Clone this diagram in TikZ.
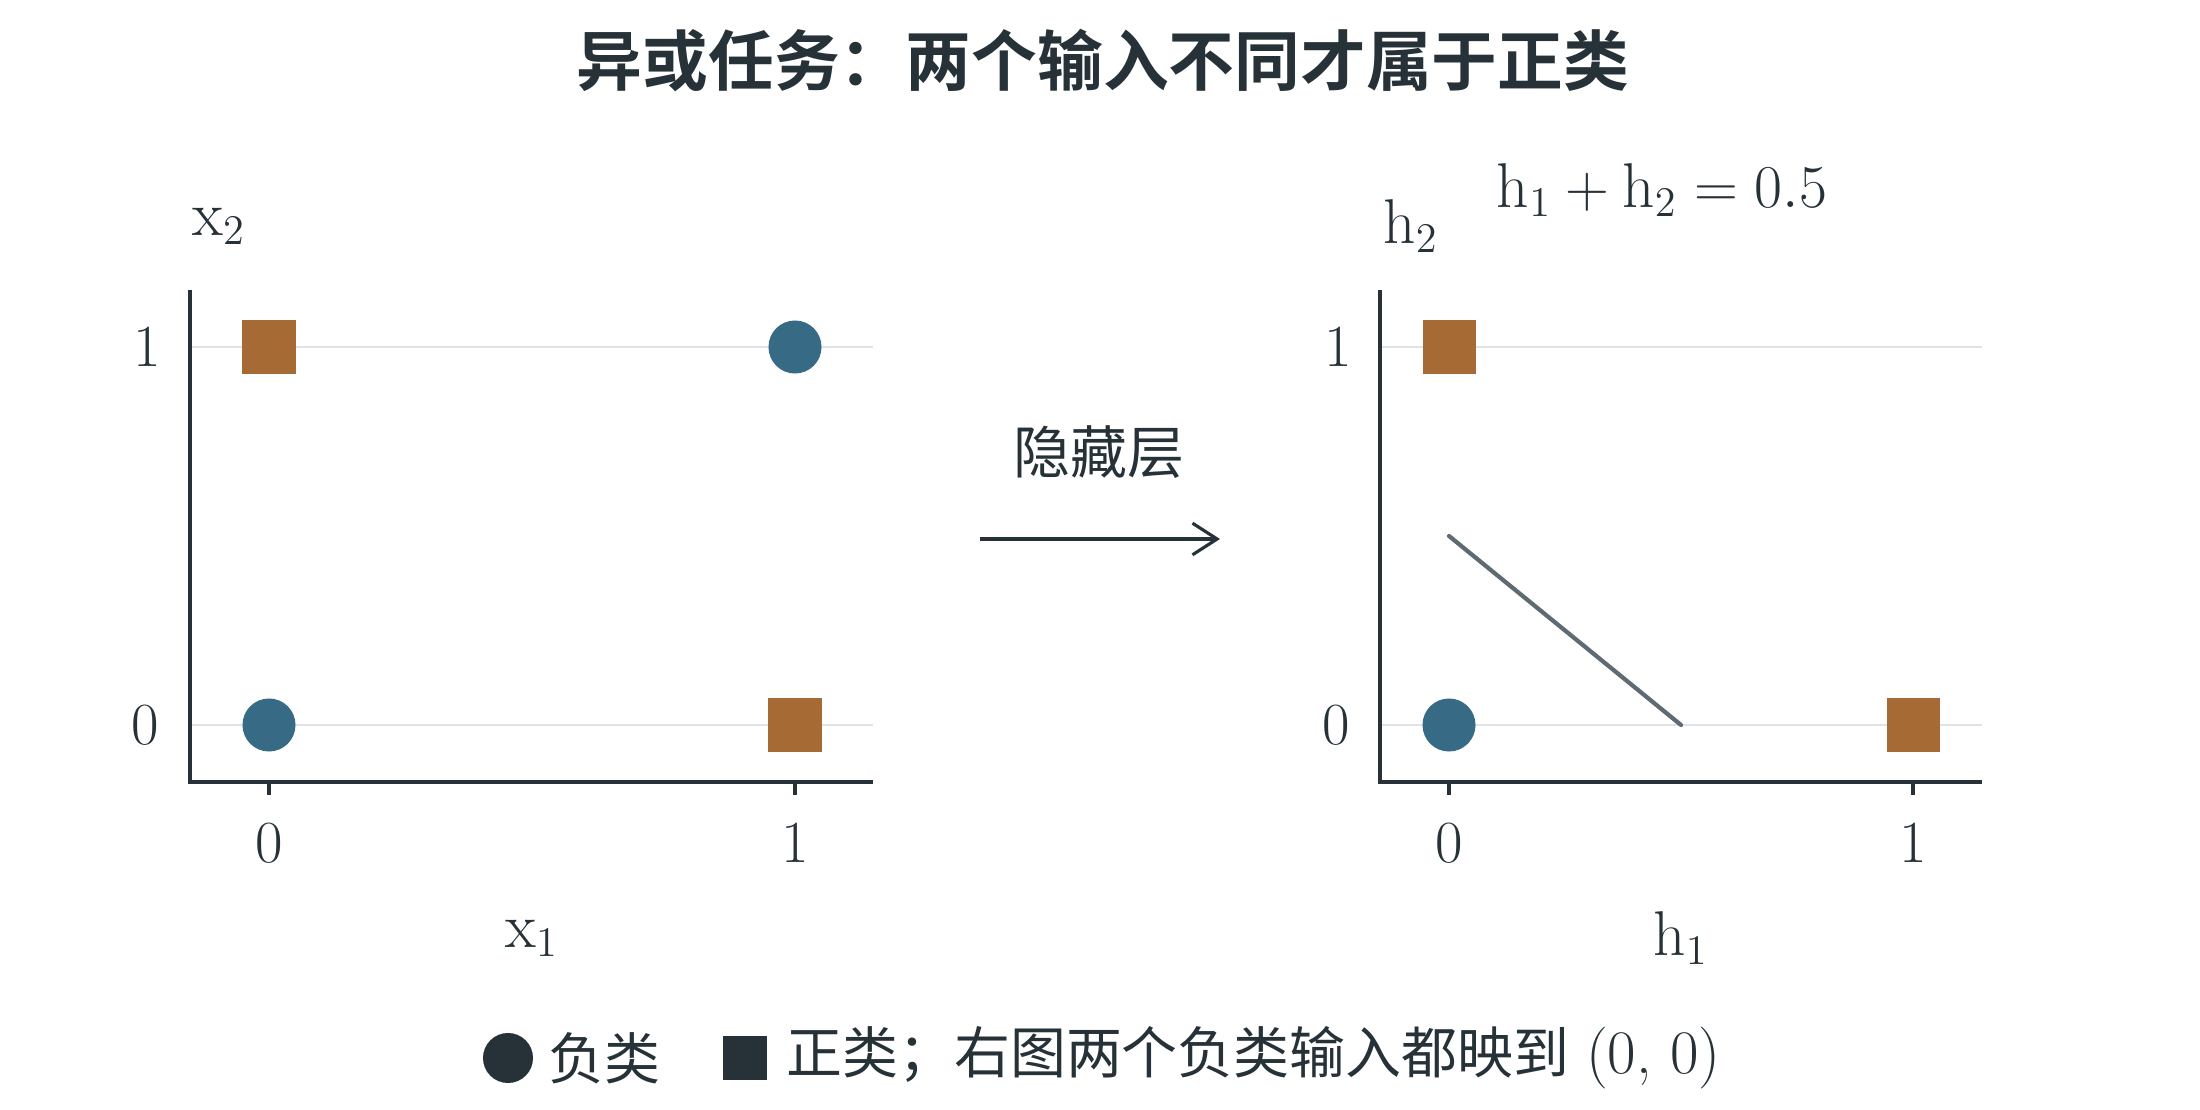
\documentclass[tikz,border=0pt]{standalone}
\usepackage{fontspec}
\newfontfamily\cjk{Noto Sans CJK SC}[BoldFont={Noto Sans CJK SC Bold}]
\usetikzlibrary{arrows.meta}
\definecolor{ink}{HTML}{263238}
\definecolor{negblue}{HTML}{376B85}
\definecolor{posorange}{HTML}{A66A34}
\definecolor{gridgray}{HTML}{DDE3E8}
\definecolor{linegray}{HTML}{5F6B73}
\tikzset{
  negdot/.style={circle, fill=negblue, inner sep=0pt, minimum size=0.53cm},
  posbox/.style={rectangle, fill=posorange, inner sep=0pt, minimum size=0.53cm},
  axis/.style={ink, line width=1.2pt},
  gridline/.style={gridgray, line width=0.45pt},
  ticklabel/.style={text=ink, font=\fontsize{17}{20}\selectfont},
  axlabel/.style={text=ink, font=\fontsize{18}{21}\selectfont},
}
\begin{document}
\begin{tikzpicture}[x=0.01cm, y=-0.01cm, >={Straight Barb[length=7pt,width=9pt]}]
\useasboundingbox (0,0) rectangle (2200,1110);
\def\yz{725} % y of 0
\def\yo{347} % y of 1
\def\yb{782} % x axis
\def\yt{290} % top of y axis
% title
\node[text=ink, font=\cjk\bfseries\fontsize{18.7}{21}\selectfont] (title) at (1103,61) {异或任务：两个输入不同才属于正类};
% left panel: input space
\coordinate (Lo) at (190,\yb);
\draw[gridline] (190,\yo) -- (873,\yo);
\draw[gridline] (190,\yz) -- (873,\yz);
\draw[axis] (190,\yt) -- (Lo) -- (873,\yb);
\draw[axis] (269,\yb) -- (269,\yb+13);
\draw[axis] (795,\yb) -- (795,\yb+13);
\node[ticklabel] (lx0) at (269,843) {0};
\node[ticklabel] (lx1) at (795,843) {1};
\node[ticklabel] (ly0) at (145,\yz) {0};
\node[ticklabel] (ly1) at (147,\yo) {1};
\node[axlabel] (lxlab) at (532,938) {$\mathrm{x}_1$};
\node[axlabel] (lylab) at (219,226) {$\mathrm{x}_2$};
\node[negdot] (a00) at (269,\yz) {};
\node[posbox] (a01) at (269,\yo) {};
\node[posbox] (a10) at (795,\yz) {};
\node[negdot] (a11) at (795,\yo) {};
% mapping arrow
\node[text=ink, font=\cjk\fontsize{16.2}{19}\selectfont] (hid) at (1099,452) {隐藏层};
\coordinate (arrL) at (980,539);
\coordinate (arrR) at (1220,539);
\draw[->, ink, line width=0.9pt] (arrL) -- (arrR);
% right panel: hidden space
\coordinate (Ro) at (1380,\yb);
\draw[gridline] (1380,\yo) -- (1982,\yo);
\draw[gridline] (1380,\yz) -- (1982,\yz);
\draw[axis] (1380,\yt) -- (Ro) -- (1982,\yb);
\draw[axis] (1449,\yb) -- (1449,\yb+13);
\draw[axis] (1913,\yb) -- (1913,\yb+13);
\node[ticklabel] (rx0) at (1449,843) {0};
\node[ticklabel] (rx1) at (1913,843) {1};
\node[ticklabel] (ry0) at (1336,\yz) {0};
\node[ticklabel] (ry1) at (1338,\yo) {1};
\node[axlabel] (rxlab) at (1681,938) {$\mathrm{h}_1$};
\node[axlabel] (rylab) at (1411,226) {$\mathrm{h}_2$};
\node[axlabel] (eq) at (1662,190) {$\mathrm{h}_1+\mathrm{h}_2=0.5$};
\coordinate (bA) at (1449,536);
\coordinate (bB) at (1681,\yz);
\draw[linegray, line width=1.2pt, line cap=round] (bA) -- (bB);
\node[negdot] (b00) at (1449,\yz) {};
\node[posbox] (b01) at (1449,\yo) {};
\node[posbox] (b10) at (1913,\yz) {};
% legend
\node[circle, fill=ink, inner sep=0pt, minimum size=0.5cm] (legneg) at (508,1058) {};
\node[text=ink, anchor=west, font=\cjk\fontsize{15.9}{19}\selectfont] (legnegt) at (536,1058) {负类};
\node[rectangle, fill=ink, inner sep=0pt, minimum size=0.43cm] (legpos) at (745,1058) {};
\node[text=ink, anchor=west, font=\cjk\fontsize{15.9}{19}\selectfont] (legpost) at (774,1058) {正类；右图两个负类输入都映到\hspace{0.3em}{\rmfamily\fontsize{17.6}{19}\selectfont (0, 0)}};
\end{tikzpicture}
\end{document}
